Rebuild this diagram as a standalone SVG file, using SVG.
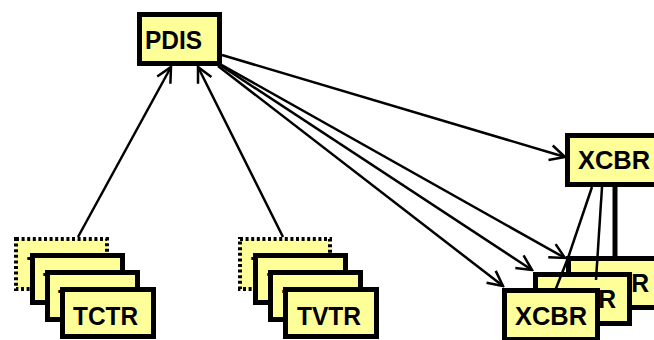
<svg xmlns="http://www.w3.org/2000/svg" width="654" height="340" viewBox="0 0 654 340">
<style>
.box{fill:#ffff99;stroke:#000;stroke-width:5}
.dot{fill:#ffff99;stroke:#000;stroke-width:4;stroke-dasharray:3 2.6}
.lbl{font-family:"Liberation Sans",Arial,sans-serif;font-weight:bold;font-size:25px;fill:#000}
.ln{stroke:#000;stroke-width:2.5;fill:none}
.arr{stroke:#000;stroke-width:2.5;fill:none;marker-end:url(#v)}
</style>
<defs>
<marker id="v" markerUnits="userSpaceOnUse" viewBox="-18 -10 20 20" refX="0" refY="0" markerWidth="20" markerHeight="20" orient="auto">
<path d="M-15,-7.5 L0,0 L-15,7.5" fill="none" stroke="#000" stroke-width="2.5"/>
</marker>
</defs>
<g id="PDIS"><rect class="box" x="139.5" y="14.5" width="80" height="49"/><text class="lbl" x="145" y="49" textLength="57" lengthAdjust="spacingAndGlyphs">PDIS</text></g>
<g id="TCTR-stack">
<g id="TCTR1"><rect class="dot" x="16" y="239" width="91" height="50"/><text class="lbl" x="27" y="275" textLength="65" lengthAdjust="spacingAndGlyphs">TCTR</text></g>
<g id="TCTR2"><rect class="box" x="32.5" y="255.5" width="90" height="47"/><text class="lbl" x="43" y="291" textLength="65" lengthAdjust="spacingAndGlyphs">TCTR</text></g>
<g id="TCTR3"><rect class="box" x="47.5" y="272.5" width="90" height="47"/><text class="lbl" x="58" y="308" textLength="65" lengthAdjust="spacingAndGlyphs">TCTR</text></g>
<g id="TCTR4"><rect class="box" x="62.5" y="289.5" width="91" height="47"/><text class="lbl" x="73" y="325" textLength="65" lengthAdjust="spacingAndGlyphs">TCTR</text></g>
</g>
<g id="TVTR-stack">
<g id="TVTR1"><rect class="dot" x="240" y="239" width="90" height="50"/><text class="lbl" x="251" y="275" textLength="64" lengthAdjust="spacingAndGlyphs">TVTR</text></g>
<g id="TVTR2"><rect class="box" x="255.5" y="255.5" width="90" height="47"/><text class="lbl" x="267" y="291" textLength="64" lengthAdjust="spacingAndGlyphs">TVTR</text></g>
<g id="TVTR3"><rect class="box" x="270.5" y="272.5" width="90" height="47"/><text class="lbl" x="282" y="308" textLength="64" lengthAdjust="spacingAndGlyphs">TVTR</text></g>
<g id="TVTR4"><rect class="box" x="285.5" y="289.5" width="91" height="47"/><text class="lbl" x="297" y="325" textLength="64" lengthAdjust="spacingAndGlyphs">TVTR</text></g>
</g>
<g id="XCBR-top"><rect class="box" x="567.5" y="135.5" width="100" height="49"/><text class="lbl" x="578" y="169" textLength="72" lengthAdjust="spacingAndGlyphs">XCBR</text></g>
<g id="XCBR-back"><rect class="box" x="568.5" y="258.5" width="100" height="49"/><text class="lbl" x="579" y="292" textLength="70" lengthAdjust="spacingAndGlyphs">XCBR</text></g>
<g id="connectors">
<line class="arr" x1="78" y1="237" x2="171" y2="67"/>
<line class="arr" x1="283" y1="237" x2="198" y2="67"/>
<line class="arr" x1="222" y1="55" x2="565" y2="157"/>
<line class="arr" x1="220" y1="64" x2="565" y2="258"/>
<line class="arr" x1="220" y1="65" x2="532" y2="270"/>
<line class="arr" x1="218" y1="66" x2="503" y2="286"/>
<line class="ln" x1="592" y1="187" x2="568" y2="258"/>
<line class="ln" style="stroke-width:5" x1="615" y1="187" x2="615" y2="257"/>
</g>
<g id="XCBR-mid"><rect class="box" x="535.5" y="274.5" width="94" height="49"/><text class="lbl" x="546" y="308" textLength="70" lengthAdjust="spacingAndGlyphs">XCBR</text></g>
<g id="connectors-over">
<line class="ln" x1="568" y1="258" x2="553" y2="296"/>
<line class="ln" x1="602" y1="187" x2="596" y2="280"/>
</g>
<g id="XCBR-front"><rect class="box" x="504.5" y="290.5" width="93" height="49"/><text class="lbl" x="515" y="325" textLength="72" lengthAdjust="spacingAndGlyphs">XCBR</text></g>
</svg>
